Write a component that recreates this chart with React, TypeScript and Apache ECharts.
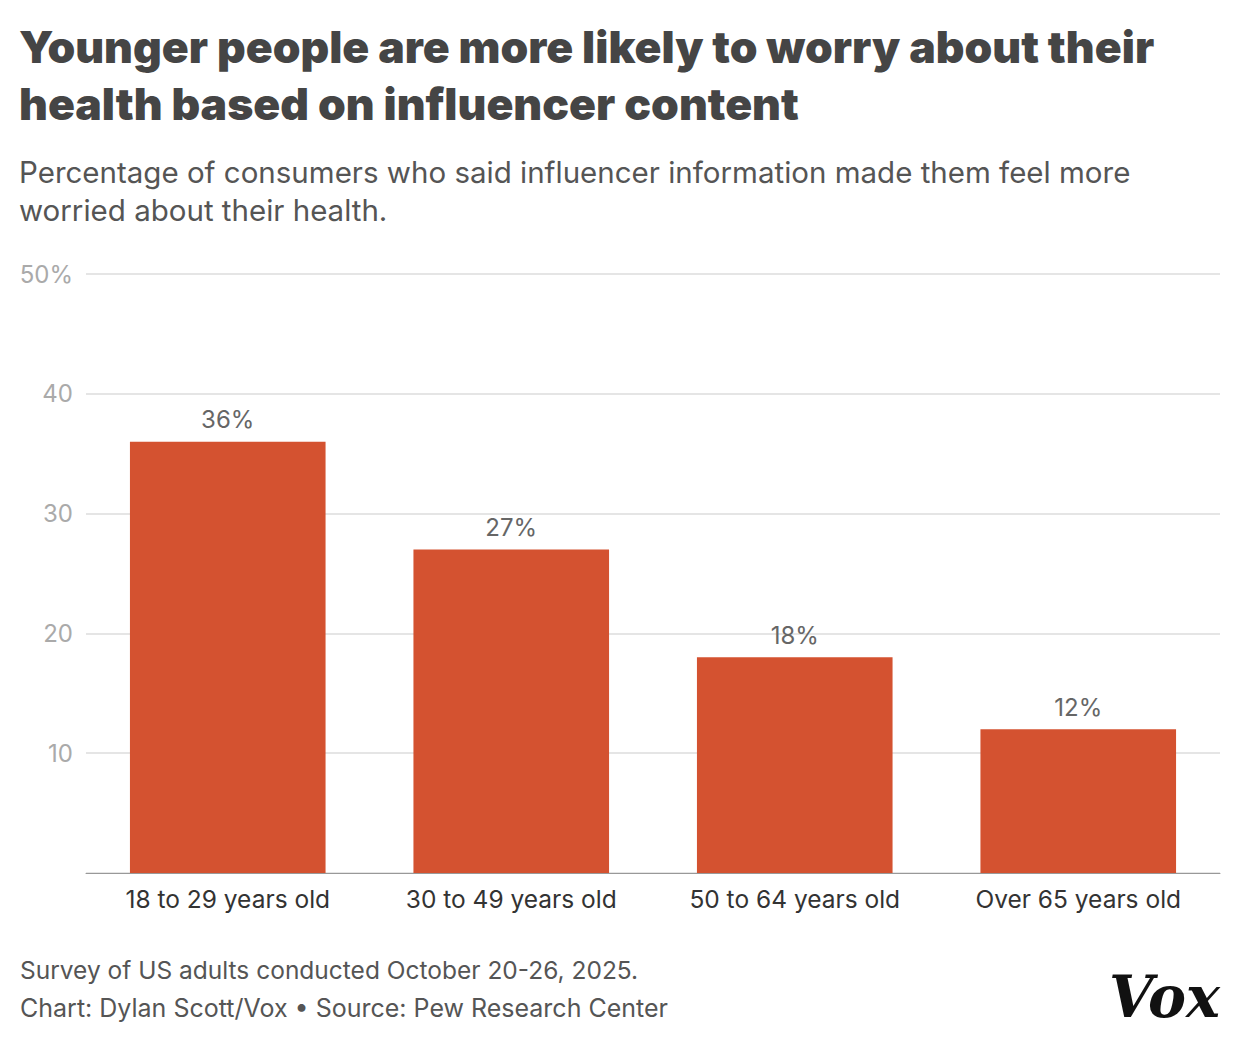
import React, { useEffect, useRef } from 'react';
import * as echarts from 'echarts';

const categories = ['18 to 29 years old', '30 to 49 years old', '50 to 64 years old', 'Over 65 years old'];
const worriedShare = [36, 27, 18, 12];
const yTicks = [0, 10, 20, 30, 40, 50];

const TITLE = 'Younger people are more likely to worry about their\nhealth based on influencer content';
const SUBTITLE = 'Percentage of consumers who said influencer information made them feel more\nworried about their health.';
const NOTE = 'Survey of US adults conducted October 20-26, 2025.';
const SOURCE = 'Chart: Dylan Scott/Vox \u2022 Source: Pew Research Center';

const SANS = 'Inter, "Open Sans", sans-serif';

export default function App() {
  const chartRef = useRef<HTMLDivElement>(null);

  useEffect(() => {
    if (!chartRef.current) return;
    const chart = echarts.init(chartRef.current, null, { renderer: 'svg' });

    chart.setOption({
      animation: false,
      backgroundColor: '#ffffff',
      textStyle: { fontFamily: SANS },
      title: [
        {
          text: TITLE,
          left: 19,
          top: 18,
          padding: 0,
          textStyle: { fontFamily: SANS, fontSize: 44.5, fontWeight: 900, color: '#454545', lineHeight: 57 },
        },
        {
          text: SUBTITLE,
          left: 19,
          top: 153,
          padding: 0,
          textStyle: { fontFamily: SANS, fontSize: 29.5, fontWeight: 400, color: '#555555', lineHeight: 38 },
        },
      ],
      grid: { left: 86, right: 20, top: 274, bottom: 171, containLabel: false },
      xAxis: {
        type: 'category',
        data: categories,
        axisLine: { lineStyle: { color: '#999999', width: 1 } },
        axisTick: { show: false },
        axisLabel: { color: '#333333', fontSize: 24.5, margin: 13, fontFamily: SANS },
      },
      yAxis: {
        type: 'value',
        min: yTicks[0],
        max: yTicks[yTicks.length - 1],
        interval: 10,
        axisLine: { show: false },
        axisTick: { show: false },
        splitLine: { lineStyle: { color: '#dddddd', width: 1.5 } },
        axisLabel: {
          color: '#aaaaaa',
          fontSize: 24,
          margin: 13,
          fontFamily: SANS,
          formatter: (v: number) => (v === 0 ? '' : v === 50 ? v + '%' : String(v)),
        },
      },
      series: [
        {
          type: 'bar',
          data: worriedShare,
          barWidth: '69%',
          itemStyle: { color: '#d45230' },
          label: {
            show: true,
            position: 'top',
            distance: 10,
            formatter: '{c}%',
            color: '#666666',
            fontSize: 24,
            fontFamily: SANS,
          },
        },
      ],
      graphic: [
        {
          type: 'text',
          left: 20,
          top: 957,
          style: { text: NOTE, fontFamily: SANS, fontSize: 24.5, fill: '#555555' },
        },
        {
          type: 'text',
          left: 20,
          top: 995,
          style: { text: SOURCE, fontFamily: SANS, fontSize: 25, fill: '#555555' },
        },
        {
          type: 'text',
          right: 20,
          top: 968,
          style: {
            text: 'Vox',
            fontFamily: '"DejaVu Serif", serif',
            fontWeight: 'bold',
            fontStyle: 'italic',
            fontSize: 57,
            fill: '#111111',
          },
        },
      ],
    });

    return () => {
      chart.dispose();
    };
  }, []);

  return (
    <div
      ref={chartRef}
      style={{ position: 'absolute', left: 0, top: 0, width: 1240, height: 1044 }}
    ></div>
  );
}
